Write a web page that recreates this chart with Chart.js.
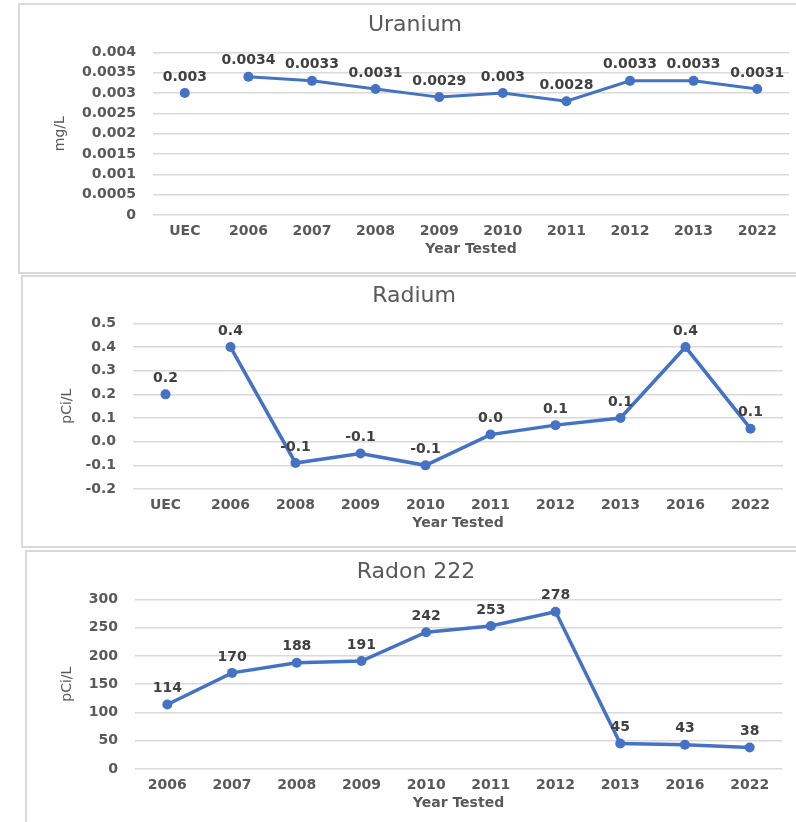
<!DOCTYPE html>
<html>
<head>
<meta charset="utf-8">
<script src="https://cdn.jsdelivr.net/npm/chart.js@4.4.1/dist/chart.umd.min.js"></script>
<style>
  body { margin: 0; background: #fff; overflow: hidden; width: 796px; height: 822px; position: relative; }
  .box { position: absolute; background: #fff; outline: 2px solid #d9d9d9; outline-offset: -2px; }
  .box canvas { position: absolute; left: 0; top: 0; }
</style>
</head>
<body>
<div class="box" style="left:18px;top:3px;width:790px;height:271px"><canvas id="uraniumChart" width="790" height="271"></canvas></div>
<div class="box" style="left:21px;top:275px;width:790px;height:273px"><canvas id="radiumChart" width="790" height="273"></canvas></div>
<div class="box" style="left:25px;top:550px;width:790px;height:280px"><canvas id="radonChart" width="790" height="280"></canvas></div>
<script>
// data
const uraniumYears = ['UEC', '2006', '2007', '2008', '2009', '2010', '2011', '2012', '2013', '2022'];
const uraniumValues = [0.003, 0.0034, 0.0033, 0.0031, 0.0029, 0.003, 0.0028, 0.0033, 0.0033, 0.0031];
const uraniumAxis = [0, 0.004, 0.0005];

const radiumYears = ['UEC', '2006', '2008', '2009', '2010', '2011', '2012', '2013', '2016', '2022'];
const radiumValues = [0.2, 0.4, -0.09, -0.05, -0.1, 0.03, 0.07, 0.1, 0.4, 0.055];
const radiumAxis = [-0.2, 0.5, 0.1];

const radonYears = ['2006', '2007', '2008', '2009', '2010', '2011', '2012', '2013', '2016', '2022'];
const radonValues = [114, 170, 188, 191, 242, 253, 278, 45, 43, 38];
const radonAxis = [0, 300, 50];

const BLUE = '#4472C4';
const FONT = '"DejaVu Sans", sans-serif';

// draws the value above each point
const valueLabels = {
  id: 'valueLabels',
  afterDatasetsDraw(chart, args, opts) {
    const ctx = chart.ctx;
    const meta = chart.getDatasetMeta(0);
    const data = chart.data.datasets[0].data;
    ctx.save();
    ctx.font = 'bold 14px ' + FONT;
    ctx.fillStyle = '#404040';
    ctx.textAlign = 'center';
    ctx.textBaseline = 'middle';
    meta.data.forEach((pt, i) => {
      ctx.fillText(opts.format(data[i]), pt.x, pt.y - 16);
    });
    ctx.restore();
  }
};

function makeChart(id, title, unit, labels, values, axis, fmtTick, fmtLabel, lay) {
  const ctx = document.getElementById(id).getContext('2d');
  return new Chart(ctx, {
    type: 'line',
    data: {
      labels: labels,
      datasets: [{
        data: values,
        borderColor: BLUE,
        backgroundColor: BLUE,
        borderWidth: lay.lw,
        pointRadius: 5,
        pointHoverRadius: 5,
        pointBorderWidth: 0,
        tension: 0,
        segment: {
          borderColor: c => labels[c.p0DataIndex] === 'UEC' ? 'rgba(0,0,0,0)' : BLUE
        }
      }]
    },
    options: {
      responsive: false,
      animation: false,
      layout: { padding: { left: lay.L, top: lay.T, right: lay.R, bottom: lay.B } },
      plugins: {
        legend: { display: false },
        tooltip: { enabled: false },
        title: {
          display: true,
          text: title,
          color: '#595959',
          font: { family: FONT, size: 22, weight: 'normal' },
          padding: { top: 4, bottom: 14 }
        },
        valueLabels: { format: fmtLabel }
      },
      scales: {
        x: {
          offset: true,
          grid: { display: false, drawTicks: false },
          border: { display: false },
          ticks: { color: '#595959', padding: 8, font: { family: FONT, size: 14, weight: 'bold' } },
          title: {
            display: true, text: 'Year Tested', color: '#595959',
            font: { family: FONT, size: 14, weight: 'bold' },
            padding: { top: 0, bottom: 0 }
          },
          afterFit: s => { s.height = 42.4; }
        },
        y: {
          min: axis[0],
          max: axis[1],
          grid: { color: '#d9d9d9', lineWidth: 1.5, drawTicks: false },
          border: { display: false },
          ticks: {
            stepSize: axis[2],
            padding: 17,
            color: '#595959',
            font: { family: FONT, size: 14, weight: 'bold' },
            callback: v => fmtTick(v)
          },
          title: {
            display: true, text: unit, color: '#595959',
            font: { family: FONT, size: 14, weight: 'normal' },
            padding: { top: lay.yPad, bottom: 0 }
          },
          afterFit: s => { s.width = lay.W; }
        }
      }
    },
    plugins: [valueLabels]
  });
}

makeChart('uraniumChart', 'Uranium', 'mg/L', uraniumYears, uraniumValues, uraniumAxis,
  v => String(Number(v.toFixed(4))), v => String(v),
  { L: 23, T: 5, R: 19, B: 16.6, W: 112, yPad: 10.6, lw: 3 });

makeChart('radiumChart', 'Radium', 'pCi/L', radiumYears, radiumValues, radiumAxis,
  v => Math.abs(v) < 1e-9 ? '0.0' : v.toFixed(1), v => v.toFixed(1),
  { L: 24, T: 4, R: 28, B: 16.6, W: 88, yPad: 13.6, lw: 3.5 });

makeChart('radonChart', 'Radon 222', 'pCi/L', radonYears, radonValues, radonAxis,
  v => String(v), v => String(v),
  { L: 25, T: 5, R: 33, B: 18.6, W: 85, yPad: 8.6, lw: 3.5 });
</script>
</body>
</html>
